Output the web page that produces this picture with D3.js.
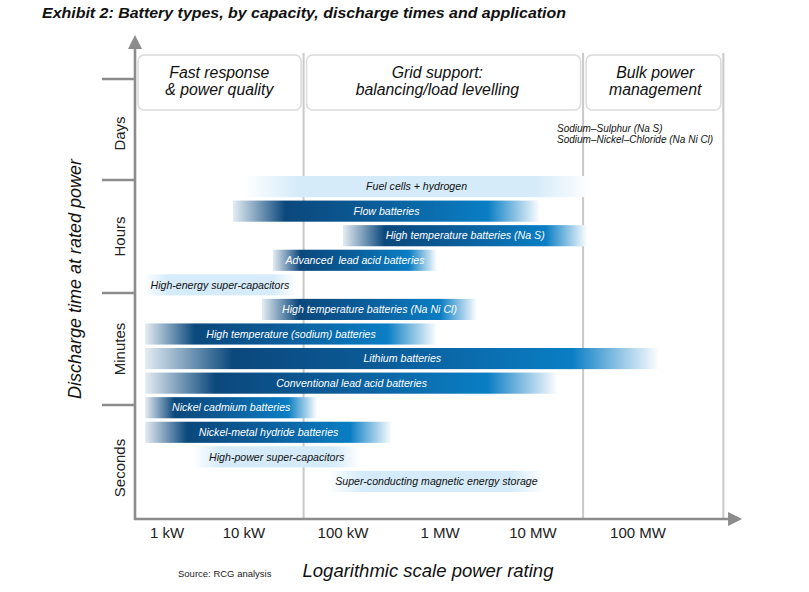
<!DOCTYPE html>
<html><head><meta charset="utf-8">
<script src="https://cdn.jsdelivr.net/npm/d3@7"></script>
<style>body{margin:0;background:#fff} svg{display:block}</style>
</head><body><svg id="c" width="809" height="592"></svg>
<script>
// ---- data ----
const techNames = ["Fuel cells + hydrogen","Flow batteries","High temperature batteries (Na S)","Advanced  lead acid batteries","High-energy super-capacitors","High temperature batteries (Na Ni Cl)","High temperature (sodium) batteries","Lithium batteries","Conventional lead acid batteries","Nickel cadmium batteries","Nickel-metal hydride batteries","High-power super-capacitors","Super-conducting magnetic energy storage"];
const powerMin = [9700, 7200, 1e5, 19600, 490, 15200, 520, 520, 520, 520, 520, 2200, 70500];
const powerMax = [3.5e7, 1.17e7, 3.3e7, 9.3e5, 34000, 2.5e6, 9.3e5, 1.6e8, 1.73e7, 55000, 3.2e5, 1.5e5, 1.3e7];
const barTone = ["light","dark","dark","dark","light","dark","dark","dark","dark","dark","dark","light","light"];
const timeCategories = ["Seconds","Minutes","Hours","Days"];
const tickValues = [1e3,1e4,1e5,1e6,1e7,1e8];
const tickLabels = ["1 kW","10 kW","100 kW","1 MW","10 MW","100 MW"];
const axisDomain = [384, 9.8e8];
const segmentBounds = [384, 4e4, 3e7, 6.5e8];
const segmentNames = [["Fast response","& power quality"],["Grid support:","balancing/load levelling"],["Bulk power","management"]];
const noteLines = ["Sodium\u2013Sulphur (Na S)","Sodium\u2013Nickel\u2013Chloride (Na Ni Cl)"];
const titleText = "Exhibit 2: Battery types, by capacity, discharge times and application";

// ---- setup ----
const FONT = "'Liberation Sans', Arial, sans-serif";
const svg = d3.select("#c");
const x = d3.scaleLog().domain(tickValues).range([167,244,343,440,533,638]);
const yT = d3.scaleLinear().domain([0,1,2,3,4]).range([519,405,293,180,79]);
const yR = d3.scaleBand().domain(techNames).range([176,492]).paddingInner(0.14);
const axisColor = "#8c8c8c";

// gradients
const defs = svg.append("defs");
const gradStops = {
  dark: [[0,"#e4ecf2"],[0.17,"#0b487c"],[0.45,"#0b5b97"],[0.83,"#0a7ec4"],[1,"#ffffff"]],
  light: [[0,"#ffffff"],[0.16,"#d5ebf9"],[0.84,"#d5ebf9"],[1,"#ffffff"]]
};
Object.entries(gradStops).forEach(([k,stops])=>{
  const g = defs.append("linearGradient").attr("id","g-"+k).attr("x1","0").attr("x2","1").attr("y1","0").attr("y2","0");
  stops.forEach(s=>g.append("stop").attr("offset",s[0]).attr("stop-color",s[1]));
});

// title
svg.append("text").attr("x",42).attr("y",18).attr("font-family",FONT).attr("font-weight","bold")
  .attr("font-style","italic").attr("font-size",15.5).attr("fill","#111")
  .attr("textLength",524).attr("lengthAdjust","spacingAndGlyphs").text(titleText);

// segment dividers
const x0 = x(axisDomain[0]), x1 = x(axisDomain[1]);
svg.selectAll("line.div").data(segmentBounds.slice(1)).join("line")
  .attr("x1",d=>x(d)).attr("x2",d=>x(d)).attr("y1",53).attr("y2",yT(0))
  .attr("stroke","#c9c9c9").attr("stroke-width",2);

// segment boxes
const boxes = svg.selectAll("g.box").data(segmentNames).join("g");
boxes.append("rect")
  .attr("x",(d,i)=>x(segmentBounds[i])+3).attr("y",55)
  .attr("width",(d,i)=>x(segmentBounds[i+1])-x(segmentBounds[i])-5.5).attr("height",55)
  .attr("rx",6).attr("fill","#fff").attr("stroke","#dadada").attr("stroke-width",1.5);
boxes.each(function(d,i){
  const cx = (x(segmentBounds[i])+x(segmentBounds[i+1]))/2 - (i===1?6:0) + (i===2?2:0);
  d3.select(this).selectAll("text").data(d).join("text")
    .attr("x",cx).attr("y",(t,j)=>78+j*17).attr("text-anchor","middle")
    .attr("font-family",FONT).attr("font-style","italic").attr("font-size",15.8).attr("fill","#111").text(t=>t);
});

// bars
const bars = svg.selectAll("g.bar").data(techNames).join("g");
bars.append("rect")
  .attr("x",(d,i)=>x(powerMin[i])).attr("y",d=>yR(d))
  .attr("width",(d,i)=>x(powerMax[i])-x(powerMin[i])).attr("height",yR.bandwidth())
  .attr("fill",(d,i)=>"url(#g-"+barTone[i]+")");
bars.append("text")
  .attr("x",(d,i)=>(x(powerMin[i])+x(powerMax[i]))/2).attr("y",d=>yR(d)+yR.bandwidth()/2)
  .attr("dy","0.35em").attr("text-anchor","middle").attr("font-family",FONT).attr("font-style","italic")
  .attr("font-size",10.6).attr("fill",(d,i)=>barTone[i]==="dark"?"#fff":"#111")
  .style("white-space","pre").text(d=>d);

// note
svg.selectAll("text.note").data(noteLines).join("text")
  .attr("x",557).attr("y",(d,i)=>132+i*10.5).attr("font-family",FONT).attr("font-style","italic")
  .attr("font-size",10).attr("fill","#111").text(d=>d);

// axes
svg.append("line").attr("x1",x0).attr("x2",x0).attr("y1",yT(0)+1).attr("y2",48)
  .attr("stroke",axisColor).attr("stroke-width",2.6);
svg.append("path").attr("d",`M${x0},35 L${x0-7},49 L${x0+7},49 Z`).attr("fill",axisColor);
svg.append("line").attr("x1",x0-1).attr("x2",x1-12).attr("y1",yT(0)).attr("y2",yT(0))
  .attr("stroke",axisColor).attr("stroke-width",2.6);
svg.append("path").attr("d",`M${x1},${yT(0)} L${x1-14},${yT(0)-7} L${x1-14},${yT(0)+7} Z`).attr("fill",axisColor);

// y ticks (band boundaries)
svg.selectAll("line.yt").data([1,2,3,4]).join("line")
  .attr("x1",102).attr("x2",x0).attr("y1",d=>yT(d)).attr("y2",d=>yT(d))
  .attr("stroke",axisColor).attr("stroke-width",2.6);
svg.selectAll("text.cat").data(timeCategories).join("text")
  .attr("transform",(d,i)=>`translate(125,${(yT(i)+yT(i+1))/2 + (i===0?6:0) + (i===3?4:0)}) rotate(-90)`)
  .attr("text-anchor","middle").attr("font-family",FONT).attr("font-size",15).attr("fill","#222").text(d=>d);

// x tick labels
svg.selectAll("text.xt").data(tickValues).join("text")
  .attr("x",d=>x(d)).attr("y",538).attr("text-anchor","middle").attr("font-family",FONT)
  .attr("font-size",15).attr("fill","#222").text((d,i)=>tickLabels[i]);

// axis titles
svg.append("text").attr("x",428).attr("y",577).attr("text-anchor","middle").attr("font-family",FONT)
  .attr("font-style","italic").attr("font-size",18.5).attr("fill","#111").text("Logarithmic scale power rating");
svg.append("text").attr("transform","translate(81,279) rotate(-90)").attr("text-anchor","middle").attr("font-family",FONT)
  .attr("font-style","italic").attr("font-size",18).attr("fill","#111").text("Discharge time at rated power");
svg.append("text").attr("x",178).attr("y",577).attr("font-family",FONT)
  .attr("font-size",9.5).attr("fill","#222").text("Source: RCG analysis");
</script></body></html>
